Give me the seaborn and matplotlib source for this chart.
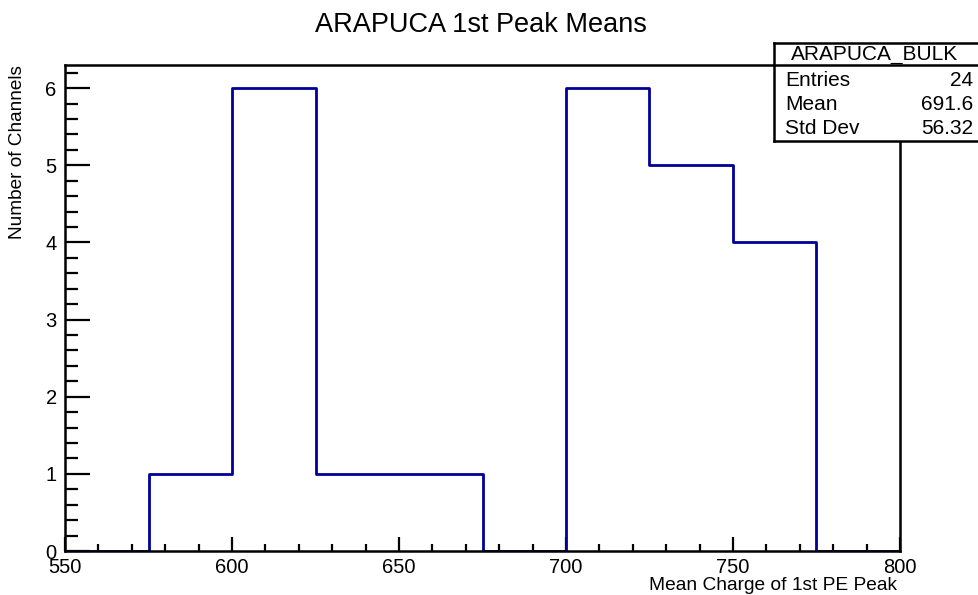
import seaborn as sns
import matplotlib.pyplot as plt
import numpy as np
import pandas as pd

# Histogram content (bin edges every 25 from 550 to 800)
bin_edges = [550, 575, 600, 625, 650, 675, 700, 725, 750, 775, 800]
counts = [0, 1, 6, 1, 1, 0, 6, 5, 4, 0]

# Stats box
stats_name = "ARAPUCA_BULK"
stats_labels = ["Entries", "Mean", "Std Dev"]
stats_values = ["24", "691.6", "56.32"]

centers = [(a + b) / 2 for a, b in zip(bin_edges[:-1], bin_edges[1:])]
df = pd.DataFrame({"charge": centers, "n": counts})

sns.set_style("ticks")
plt.rcParams['font.family'] = ['Liberation Sans', 'DejaVu Sans']
plt.rcParams['text.color'] = 'black'

fig = plt.figure(figsize=(9.79, 5.95), dpi=100)
ax = fig.add_axes([0.0664, 0.0739, 0.8529, 0.8169])

sns.histplot(data=df, x="charge", weights="n", bins=bin_edges, element="step",
             fill=False, color="#000099", linewidth=2.0, ax=ax)

ax.set_xlim(550, 800)
ax.set_ylim(0, 6.3)
ax.set_xticks(np.arange(550, 801, 50))
ax.set_xticks(np.arange(550, 801, 10), minor=True)
ax.set_yticks(np.arange(0, 7, 1))
ax.set_yticks(np.arange(0, 6.3, 0.2), minor=True)
ax.tick_params(direction="in", which="both", labelsize=14.5, width=1.6,
               colors="black", labelcolor="black")
ax.tick_params(axis="x", which="major", length=10, pad=5)
ax.tick_params(axis="x", which="minor", length=5)
ax.tick_params(axis="y", which="major", length=18, pad=6)
ax.tick_params(axis="y", which="minor", length=9)
ax.tick_params(top=False, right=False)
for sp in ax.spines.values():
    sp.set_visible(True)
    sp.set_linewidth(1.8)
    sp.set_color("black")
ax.set_xlabel("")
ax.set_ylabel("")

# Titles and labels
fig.text(0.491, 1 - 25 / 595, "ARAPUCA 1st Peak Means", ha="center", va="center", fontsize=19.5)
fig.text(0.9165, 1 - 585 / 595, "Mean Charge of 1st PE Peak", ha="right", va="center", fontsize=13.8)
fig.text(18 / 979, 1 - 65 / 595, "Number of Channels", rotation=90, ha="center", va="top", fontsize=13.7)

# Stats box
box = fig.add_axes([774 / 979, 1 - 141 / 595, 0.25, (141 - 43) / 595])
box.set_xlim(0, 1)
box.set_ylim(0, 1)
box.set_xticks([])
box.set_yticks([])
for sp in box.spines.values():
    sp.set_linewidth(1.8)
    sp.set_color("black")
sep = (141 - 65) / (141 - 43)
box.axhline(sep, color="black", linewidth=1.8)
box.text((875 - 774) / 245, (141 - 54) / 98, stats_name, ha="center", va="center", fontsize=15)
rows_y = [80, 104, 128]
for lab, val, yp in zip(stats_labels, stats_values, rows_y):
    box.text((785 - 774) / 245, (141 - yp) / 98, lab, ha="left", va="center", fontsize=15)
    box.text((973 - 774) / 245, (141 - yp) / 98, val, ha="right", va="center", fontsize=15)

plt.savefig("out.png", dpi=100)
